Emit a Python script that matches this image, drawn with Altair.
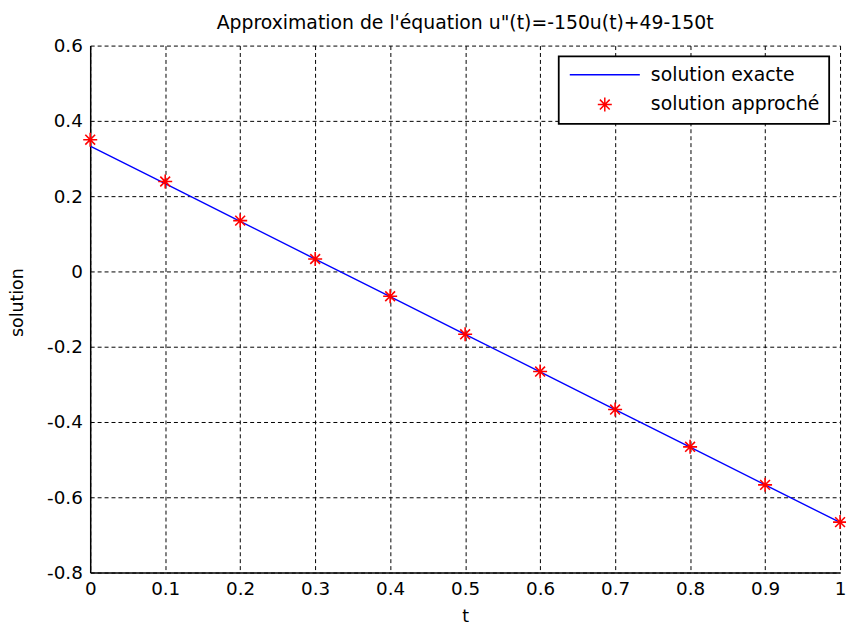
import altair as alt
import pandas as pd

t_values = [0.0, 0.1, 0.2, 0.3, 0.4, 0.5, 0.6, 0.7, 0.8, 0.9, 1.0]
exact_values = [0.333, 0.233, 0.133, 0.033, -0.067, -0.167, -0.267, -0.367, -0.467, -0.567, -0.667]
approx_values = [0.350, 0.239, 0.135, 0.033, -0.066, -0.167, -0.266, -0.367, -0.466, -0.567, -0.666]
x_ticks = [0, 0.1, 0.2, 0.3, 0.4, 0.5, 0.6, 0.7, 0.8, 0.9, 1]
y_ticks = [-0.8, -0.6, -0.4, -0.2, 0, 0.2, 0.4, 0.6]
series_names = ["solution exacte", "solution approché"]

FONT = "DejaVu Sans"
ASTERISK = "M0,-1L0,1M-1,0L1,0M-0.7,-0.7L0.7,0.7M-0.7,0.7L0.7,-0.7"
LINE_SYMBOL = "M-5,0L5,0"

exact_df = pd.DataFrame({"t": t_values, "u": exact_values, "serie": series_names[0]})
approx_df = pd.DataFrame({"t": t_values, "u": approx_values, "serie": series_names[1]})

x_enc = alt.X("t:Q", title="t",
              scale=alt.Scale(domain=[0, 1], nice=False, zero=False),
              axis=alt.Axis(values=x_ticks, labelExpr="'' + datum.value",
                            grid=True, ticks=False, labelFlush=False,
                            labelOverlap=False, labelPadding=7, titlePadding=10))
y_enc = alt.Y("u:Q", title="solution",
              scale=alt.Scale(domain=[-0.8, 0.6], nice=False, zero=False),
              axis=alt.Axis(values=y_ticks, labelExpr="'' + datum.value",
                            grid=True, ticks=False, labelFlush=False,
                            labelOverlap=False, labelPadding=8, titlePadding=20,
                            titleY=259))

legend = alt.Legend(
    orient="none", legendX=473, legendY=11, title=None,
    labelFont=FONT, labelFontSize=19, labelColor="black", labelOffset=37,
    labelLimit=400, symbolSize=200, symbolOffset=28,
    rowPadding=9, symbolStrokeWidth=1.5, symbolOpacity=1,
    strokeColor="black", fillColor="white", padding=9,
)

color_enc = alt.Color("serie:N",
                      scale=alt.Scale(domain=series_names, range=["#0000ff", "#ff0000"]),
                      legend=legend)
shape_enc = alt.Shape("serie:N",
                      scale=alt.Scale(domain=series_names, range=[LINE_SYMBOL, ASTERISK]),
                      legend=legend)

line = alt.Chart(exact_df).mark_line(strokeWidth=1.4).encode(x=x_enc, y=y_enc, color=color_enc)
points = alt.Chart(approx_df).mark_point(size=200, strokeWidth=1.6, filled=False, opacity=1).encode(
    x="t:Q", y="u:Q", color=color_enc, shape=shape_enc)

chart = alt.layer(line, points).properties(
    width=757, height=532,
    title=alt.TitleParams("Approximation de l'équation u\"(t)=-150u(t)+49-150t",
                          font=FONT, fontSize=19, fontWeight="normal", color="black",
                          offset=4, anchor="middle"),
    autosize=alt.AutoSizeParams(type="none"),
    padding={"left": 83, "top": 35, "right": 6, "bottom": 50},
).configure_axis(
    labelFont=FONT, labelFontSize=18.5, labelColor="black",
    titleFont=FONT, titleFontSize=17.5, titleFontWeight="normal", titleColor="black",
    gridColor="black", gridDash=[4, 3], gridWidth=1, gridOpacity=1,
    domainColor="black", domainWidth=1.5,
).configure_legend(
    strokeWidth=1.8,
).configure_view(stroke=None)

chart.save("out.html", embed_options={"renderer": "svg", "actions": False})
